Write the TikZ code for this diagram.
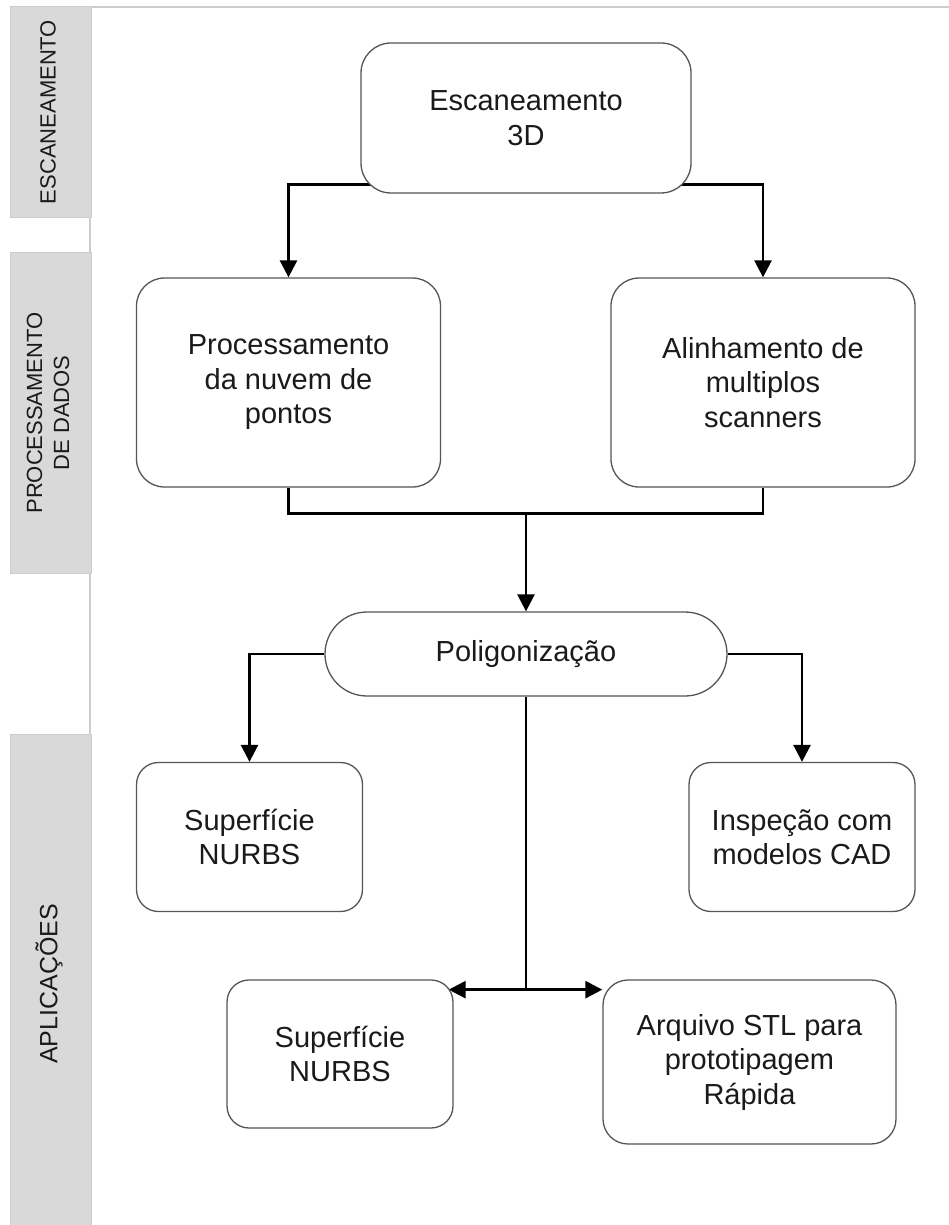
\documentclass[tikz,border=0pt]{standalone}
\usepackage{fontspec}
\setmainfont{Liberation Sans}
\usetikzlibrary{arrows.meta,backgrounds,calc}
\definecolor{barfill}{HTML}{D9D9D9}
\definecolor{barline}{HTML}{CDCDCD}
\definecolor{boxline}{HTML}{555555}
\definecolor{txt}{HTML}{1A1A1A}

\begin{document}
\begin{tikzpicture}[x=1pt,y=-1pt,
  box/.style={draw=boxline, line width=1.3pt, fill=white, rounded corners=#1,
    inner sep=0pt, align=center, text=txt, font=\fontsize{29}{34.5}\selectfont},
  box/.default=28pt,
  conn/.style={line width=2.6pt, draw=black},
  arr/.style={conn, -{Triangle[width=17pt,length=17pt]}},
  lane/.style={draw=barline, fill=barfill, line width=1pt},
  lanetext/.style={rotate=90, align=center, text=txt, inner sep=0pt},
  frameline/.style={draw=barline, line width=1.5pt}]

\useasboundingbox (0,0) rectangle (949,1225);

% page frame and swimlane headers
\draw[frameline] (90,1225) -- (90,7) -- (949,7);
\draw[lane] (10,7) rectangle (91,217);
\draw[lane] (10,252) rectangle (91,573);
\draw[lane] (10,734) rectangle (91,1232);
\node[lanetext, font=\fontsize{22}{27}\selectfont] (laneA) at (48,112) {ESCANEAMENTO};
\node[lanetext, font=\fontsize{22}{27}\selectfont] (laneB) at (48,413) {PROCESSAMENTO\\DE DADOS};
\node[lanetext, font=\fontsize{25}{30}\selectfont] (laneC) at (49,984) {APLICAÇÕES};

% process boxes
\node[box=30pt, minimum width=330pt, minimum height=150pt] (esc) at (526,118) {Escaneamento\\3D};
\node[box, minimum width=304pt, minimum height=209pt] (proc) at (288.5,382.5) {Processamento\\da nuvem de\\pontos};
\node[box, minimum width=304pt, minimum height=209pt] (alin) at (763,382.5) {Alinhamento de\\multiplos\\scanners};
\node[box=42pt, minimum width=402pt, minimum height=84pt] (poly) at (526,654) {Poligonização};
\node[box=22pt, minimum width=226pt, minimum height=149pt] (nurbsA) at (249.5,837) {Superfície\\NURBS};
\node[box=22pt, minimum width=226pt, minimum height=149pt] (insp) at (802,837) {Inspeção com\\modelos CAD};
\node[box=22pt, minimum width=226pt, minimum height=148pt] (nurbsB) at (340,1054) {Superfície\\NURBS};
\node[box=25pt, minimum width=293pt, minimum height=164pt] (stl) at (749.5,1062) {Arquivo STL para\\prototipagem\\Rápida};

% connectors
\begin{scope}[on background layer]
  \coordinate (escout) at ($(esc.south)+(0,-9)$);
  \draw[arr] (escout) -| (proc.north);
  \draw[arr] (escout) -| (alin.north);
  \coordinate (join) at ($(poly.north)+(0,-98)$);
  \draw[conn] (proc.south) |- (join) -| (alin.south);
  \draw[arr] (join) -- (poly.north);
  \draw[arr] (poly.west) -| (nurbsA.north);
  \draw[arr] (poly.east) -| (insp.north);
  \coordinate (split) at ($(poly.south)+(0,293)$);
  \draw[conn] (poly.south) -- (split);
  \draw[arr] (split) -- ($(nurbsB.east |- split)+(-5,0)$);
  \draw[arr] (split) -- (stl.west |- split);
\end{scope}
\end{tikzpicture}
\end{document}
